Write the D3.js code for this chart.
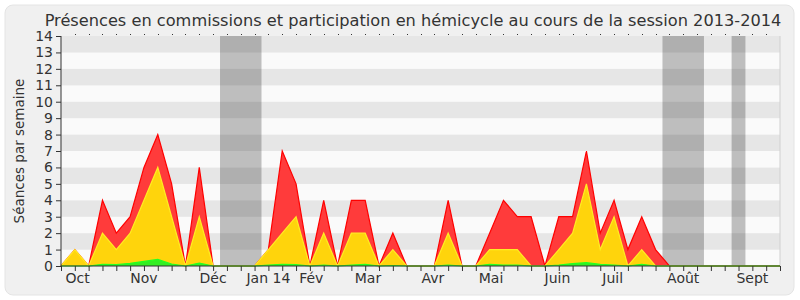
<!DOCTYPE html>
<html>
<head>
<meta charset="utf-8">
<script src="https://cdn.jsdelivr.net/npm/d3@7"></script>
<style>
  body { margin: 0; background: #ffffff; }
  svg { display: block; font-family: "DejaVu Sans", sans-serif; }
</style>
</head>
<body>
<svg id="chart"></svg>
<script>
const width = 800;
const height = 300;

// one value per week, from the first week of October 2013 to the end of September 2014
const weeks = d3.range(0, 53);
const redValues = [0, 1, 0, 4, 2, 3, 6, 8, 5, 0, 6, 0, 0, 0, 0, 1, 7, 5, 0, 4, 0, 4, 4, 0, 2, 0, 0, 0, 4, 0, 0, 2, 4, 3, 3, 0, 3, 3, 7, 2, 4, 1, 3, 1, 0, 0, 0, 0, 0, 0, 0, 0, 0];
const yellowValues = [0, 1, 0, 2, 1, 2, 4, 6, 3, 0, 3, 0, 0, 0, 0, 1, 2, 3, 0, 2, 0, 2, 2, 0, 1, 0, 0, 0, 2, 0, 0, 1, 1, 1, 0, 0, 1, 2, 5, 1, 3, 0, 1, 0, 0, 0, 0, 0, 0, 0, 0, 0, 0];
const greenValues = [0, 0, 0, 0.1, 0.08, 0.16, 0.28, 0.4, 0.12, 0, 0.18, 0, 0, 0, 0, 0.05, 0.1, 0.08, 0, 0.05, 0, 0.05, 0.1, 0, 0.03, 0, 0, 0, 0.05, 0, 0, 0.1, 0.05, 0.05, 0, 0, 0.05, 0.15, 0.2, 0.1, 0.05, 0, 0.1, 0, 0, 0, 0, 0, 0, 0, 0, 0, 0];

// holidays, in weeks
const vacations = [[11.5, 14.5], [43.5, 46.5], [48.5, 49.5]];

const monthLabels = ["Oct", "Nov", "Déc", "Jan 14", "Fév", "Mar", "Avr", "Mai", "Juin", "Juil", "Août", "Sept"];
const monthPositions = [1.2, 6, 11, 15, 18.1, 22.2, 26.9, 31.1, 35.9, 39.9, 45, 50];
const yTicks = d3.range(0, 15);

const margin = { left: 61, right: 20, top: 36, bottom: 34 };

const svg = d3.select("#chart")
  .attr("width", width)
  .attr("height", height);

svg.append("rect")
  .attr("x", 5)
  .attr("y", 5)
  .attr("width", 789)
  .attr("height", 290)
  .attr("rx", 8)
  .attr("fill", "#f0f0f0")
  .attr("stroke", "#e4e4e4");

const x = d3.scaleLinear()
  .domain([0, 52])
  .range([margin.left, width - margin.right]);

const y = d3.scaleLinear()
  .domain([0, 14])
  .range([height - margin.bottom, margin.top]);

// alternating horizontal stripes
svg.append("g")
  .selectAll("rect")
  .data(d3.range(0, 14))
  .join("rect")
  .attr("x", x(0))
  .attr("y", d => y(d + 1))
  .attr("width", x(52) - x(0))
  .attr("height", d => y(d) - y(d + 1))
  .attr("fill", d => d % 2 === 1 ? "#e6e6e6" : "#fafafa");

svg.append("g")
  .selectAll("rect")
  .data(vacations)
  .join("rect")
  .attr("x", d => x(d[0]))
  .attr("y", y(14))
  .attr("width", d => x(d[1]) - x(d[0]))
  .attr("height", y(0) - y(14))
  .attr("fill", "rgba(0, 0, 0, 0.24)");

svg.append("line")
  .attr("x1", x(52))
  .attr("x2", x(52))
  .attr("y1", y(14))
  .attr("y2", y(0))
  .attr("stroke", "#d0d0d0");

function drawSeries(values, fill, stroke) {
  const area = d3.area()
    .x((d, i) => x(weeks[i]))
    .y0(y(0))
    .y1(d => y(d));
  const line = d3.line()
    .x((d, i) => x(weeks[i]))
    .y(d => y(d));
  svg.append("path")
    .datum(values)
    .attr("d", area)
    .attr("fill", fill);
  svg.append("path")
    .datum(values)
    .attr("d", line)
    .attr("fill", "none")
    .attr("stroke", stroke)
    .attr("stroke-width", 1.2);
}

drawSeries(redValues, "#ff3b3b", "#ff0000");
drawSeries(yellowValues, "#ffd40c", "#ffee22");
drawSeries(greenValues, "#33ee22", "#22ff22");

// axes
const xAxis = svg.append("g")
  .attr("transform", `translate(0, ${y(0)})`)
  .call(d3.axisBottom(x).tickValues(weeks).tickSize(5).tickFormat(""));
xAxis.select(".domain").attr("stroke", "#333").attr("d", `M${x(0)},0H${x(52)}`);
xAxis.selectAll(".tick line").attr("stroke", "#333");

svg.append("g")
  .selectAll("text")
  .data(monthLabels)
  .join("text")
  .attr("x", (d, i) => x(monthPositions[i]))
  .attr("y", 283)
  .attr("text-anchor", "middle")
  .attr("font-size", 14)
  .attr("fill", "#333")
  .text(d => d);

// small dotted ticks above the plot
svg.append("g")
  .selectAll("rect")
  .data(weeks.slice(1, 52))
  .join("rect")
  .attr("x", d => Math.round(x(d)))
  .attr("y", y(14) - 2)
  .attr("width", 1)
  .attr("height", 1)
  .attr("fill", "#333");

const yAxis = svg.append("g")
  .attr("transform", `translate(${x(0)}, 0)`)
  .call(d3.axisLeft(y).tickValues(yTicks).tickSize(5).tickPadding(3));
yAxis.select(".domain").attr("stroke", "#333").attr("d", `M0,${y(14)}V${y(0)}`);
yAxis.selectAll(".tick line").attr("stroke", "#333");
yAxis.selectAll(".tick text")
  .attr("font-family", "DejaVu Sans, sans-serif")
  .attr("font-size", 14)
  .attr("fill", "#333");

svg.append("text")
  .attr("transform", `translate(24, ${(y(0) + y(14)) / 2}) rotate(-90)`)
  .attr("text-anchor", "middle")
  .attr("font-size", 13.5)
  .attr("fill", "#333")
  .text("Séances par semaine");

svg.append("text")
  .attr("x", 413)
  .attr("y", 26)
  .attr("text-anchor", "middle")
  .attr("font-size", 16.2)
  .attr("fill", "#333")
  .text("Présences en commissions et participation en hémicycle au cours de la session 2013-2014");
</script>
</body>
</html>
